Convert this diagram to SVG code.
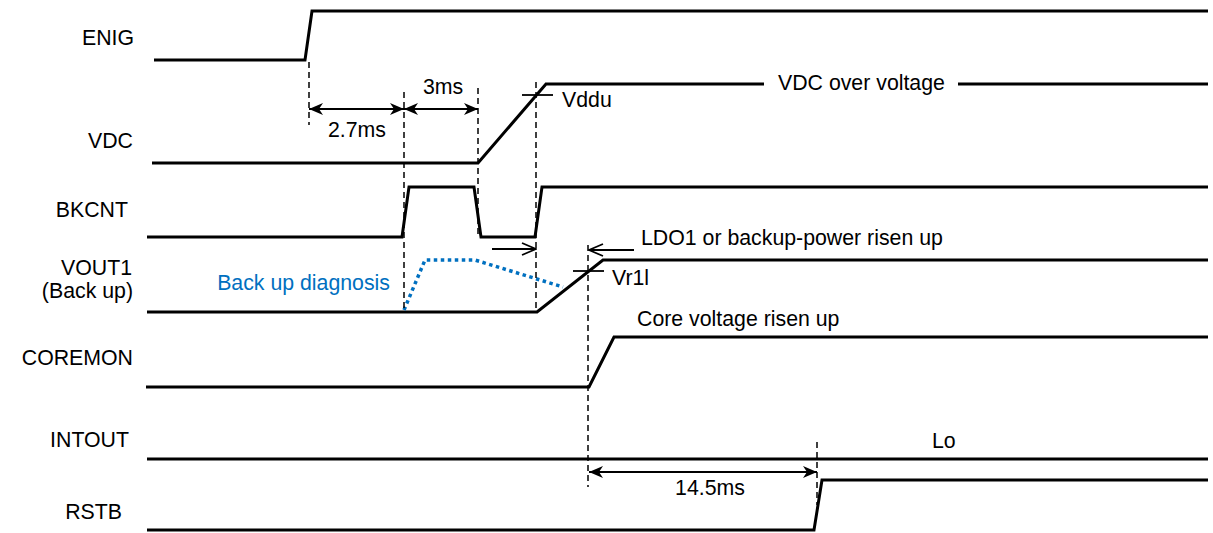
<svg xmlns="http://www.w3.org/2000/svg" width="1213" height="533" viewBox="0 0 1213 533">
<style>
.sig{fill:none;stroke:#000;stroke-width:3;stroke-linejoin:miter}
.dash{fill:none;stroke:#000;stroke-width:1.5;stroke-dasharray:6 4}
.dim{fill:none;stroke:#000;stroke-width:2}
.tick{fill:none;stroke:#000;stroke-width:1.8}
.t{font-family:"Liberation Sans",Arial,sans-serif;font-size:21.3px;fill:#000}
.r{text-anchor:end}
.m{text-anchor:middle}
.blue{fill:#0070C0}
.diag{fill:none;stroke:#0070C0;stroke-width:3.5;stroke-dasharray:3.5 3.5}
</style>
<defs>
<marker id="ah" viewBox="0 0 14 12" refX="14" refY="6" markerWidth="14" markerHeight="12" markerUnits="userSpaceOnUse" orient="auto-start-reverse">
<path d="M0,0 L14,6 L0,12 L4,6 Z" fill="#000"/>
</marker>
<marker id="ao" viewBox="0 0 16 14" refX="15" refY="7" markerWidth="16" markerHeight="14" markerUnits="userSpaceOnUse" orient="auto">
<path d="M1,1 L15,7 L1,13" fill="none" stroke="#000" stroke-width="1.8"/>
</marker>
</defs>
<g id="ENIG">
<text class="t r" x="134" y="45">ENIG</text>
<path class="sig" d="M154,60 H305 L312,11 H1208"/>
</g>
<g id="VDC">
<text class="t r" x="133" y="148">VDC</text>
<path class="sig" d="M152,163 H478 L546,84 H764"/>
<path class="sig" d="M958,84 H1208"/>
<text class="t" x="778" y="90">VDC over voltage</text>
<path class="tick" d="M522,95 H553"/>
<text class="t" x="562" y="107">Vddu</text>
</g>
<g id="BKCNT">
<text class="t r" x="128" y="217">BKCNT</text>
<path class="sig" d="M147,237 H402 L409,187 H474 L481,237 H535 L542,187 H1208"/>
</g>
<g id="VOUT1">
<text class="t r" x="132" y="275">VOUT1</text>
<text class="t r" x="133" y="298">(Back up)</text>
<path class="sig" d="M147,312 H537 L603,260 H1208"/>
<path class="tick" d="M573,271 H604"/>
<text class="t" x="612" y="285">Vr1l</text>
<text class="t" x="641" y="245">LDO1 or backup-power risen up</text>
<path class="diag" d="M404,310 L425,260 H475 L563,287"/>
<text class="t r blue" x="390" y="290">Back up diagnosis</text>
</g>
<g id="COREMON">
<text class="t r" x="133" y="365">COREMON</text>
<path class="sig" d="M146,387 H589 L614,337 H1208"/>
<text class="t" x="637" y="326">Core voltage risen up</text>
</g>
<g id="INTOUT">
<text class="t r" x="129" y="447">INTOUT</text>
<path class="sig" d="M147,459 H1208"/>
<text class="t" x="932" y="448">Lo</text>
</g>
<g id="RSTB">
<text class="t r" x="122" y="519">RSTB</text>
<path class="sig" d="M147,530 H814 L822,480 H1208"/>
</g>
<g id="connectors">
<path class="dash" d="M309,62 V125"/>
<path class="dash" d="M404,92 V312"/>
<path class="dash" d="M478,88 V237"/>
<path class="dash" d="M536,82 V312"/>
<path class="dash" d="M588,245 V487"/>
<path class="dash" d="M817,442 V505"/>
<path class="dim" d="M309,109 H404" marker-start="url(#ah)" marker-end="url(#ah)"/>
<path class="dim" d="M404,109 H478" marker-start="url(#ah)" marker-end="url(#ah)"/>
<path class="dim" d="M589,472 H817" marker-start="url(#ah)" marker-end="url(#ah)"/>
<path class="dim" d="M492,249 H536" marker-end="url(#ao)"/>
<path class="dim" d="M634,250 H589" marker-end="url(#ao)"/>
<text class="t m" x="357" y="137">2.7ms</text>
<text class="t m" x="443" y="94">3ms</text>
<text class="t m" x="710" y="495">14.5ms</text>
</g>
</svg>
